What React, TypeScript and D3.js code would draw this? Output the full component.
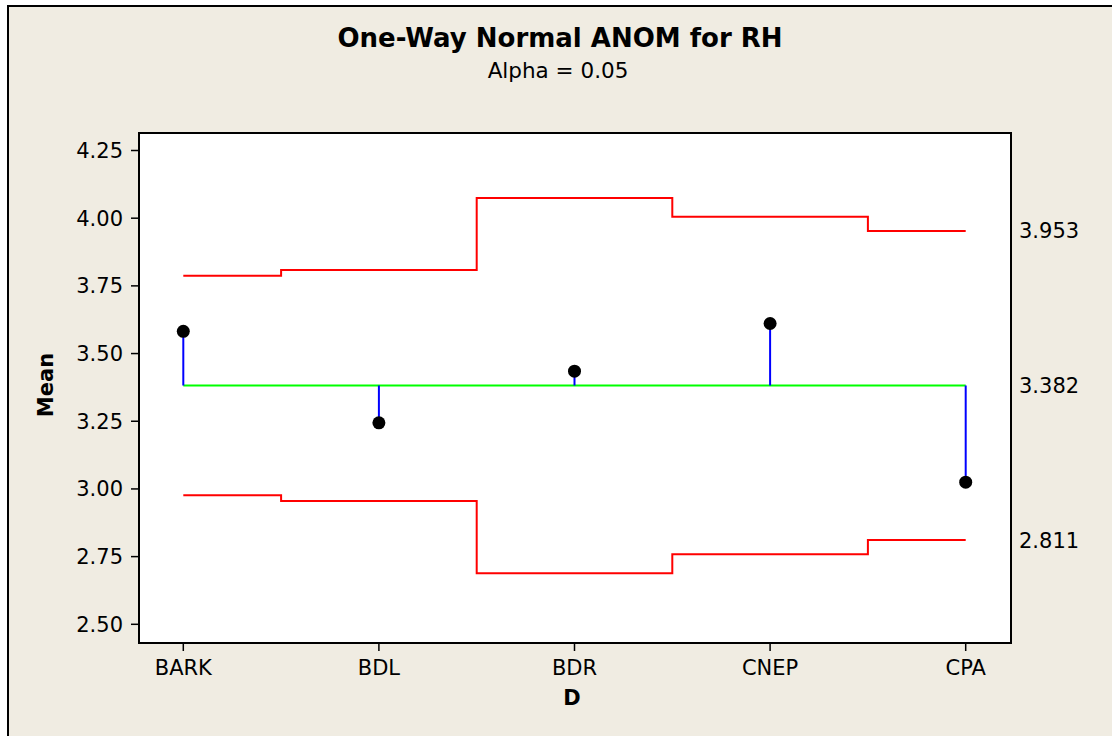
import React from "react";
import * as d3 from "d3";

const categories = ["BARK", "BDL", "BDR", "CNEP", "CPA"];
const means = [3.582, 3.244, 3.435, 3.611, 3.025];
const upperLimits = [3.787, 3.809, 4.075, 4.005, 3.953];
const lowerLimits = [2.977, 2.955, 2.689, 2.759, 2.811];
const centerLine = 3.382;
const yTicks = [2.5, 2.75, 3.0, 3.25, 3.5, 3.75, 4.0, 4.25];
const rightLabels = [
  { value: 3.953, text: "3.953" },
  { value: 3.382, text: "3.382" },
  { value: 2.811, text: "2.811" },
];

const W = 1112;
const H = 736;
const plot = { left: 139, right: 1011, top: 133, bottom: 643 };
const FONT = "'DejaVu Sans', Tahoma, sans-serif";

export default function App() {
  const x = d3.scalePoint<string>().domain(categories).range([183.3, 965.7]).padding(0);
  const y = d3.scaleLinear().domain([2.5, 4.25]).range([624.3, 150.5]);

  const stepLine = d3
    .line<number>()
    .x((_, i) => x(categories[i]) as number)
    .y((d) => y(d))
    .curve(d3.curveStep);

  return (
    <div style={{ position: "absolute", left: 0, top: 0, width: W, height: H, overflow: "hidden" }}>
      <svg width={W} height={H} style={{ display: "block" }} fontFamily={FONT}>
        <rect x={0} y={0} width={W} height={H} fill="#ffffff" />
        <rect x={8} y={6} width={W + 20} height={H + 20} fill="#F0ECE2" stroke="#000" strokeWidth={2} />
        <text x={560} y={47} textAnchor="middle" fontSize={26} fontWeight="bold" fill="#000">
          One-Way Normal ANOM for RH
        </text>
        <text x={558} y={78} textAnchor="middle" fontSize={21.5} fill="#000">
          Alpha = 0.05
        </text>

        <rect
          x={plot.left}
          y={plot.top}
          width={plot.right - plot.left}
          height={plot.bottom - plot.top}
          fill="#ffffff"
          stroke="#000"
          strokeWidth={2}
        />

        {yTicks.map((t) => (
          <g key={t}>
            <line x1={plot.left - 8} x2={plot.left} y1={y(t)} y2={y(t)} stroke="#000" strokeWidth={1.5} />
            <text x={plot.left - 16} y={y(t) + 7.5} textAnchor="end" fontSize={21} fill="#000">
              {t.toFixed(2)}
            </text>
          </g>
        ))}

        {categories.map((c) => (
          <g key={c}>
            <line x1={x(c)} x2={x(c)} y1={plot.bottom} y2={plot.bottom + 8} stroke="#000" strokeWidth={1.5} />
            <text x={x(c)} y={675} textAnchor="middle" fontSize={21} fill="#000">
              {c}
            </text>
          </g>
        ))}

        <text x={572} y={705} textAnchor="middle" fontSize={21} fontWeight="bold" fill="#000">
          D
        </text>
        <text
          transform={`translate(53, 385) rotate(-90)`}
          textAnchor="middle"
          fontSize={21}
          fontWeight="bold"
          fill="#000"
        >
          Mean
        </text>

        <path d={stepLine(upperLimits) || ""} fill="none" stroke="#FF0000" strokeWidth={2} />
        <path d={stepLine(lowerLimits) || ""} fill="none" stroke="#FF0000" strokeWidth={2} />
        <line
          x1={x(categories[0])}
          x2={x(categories[categories.length - 1])}
          y1={y(centerLine)}
          y2={y(centerLine)}
          stroke="#00FF00"
          strokeWidth={2}
        />

        {means.map((m, i) => (
          <line
            key={"s" + i}
            x1={x(categories[i])}
            x2={x(categories[i])}
            y1={y(centerLine)}
            y2={y(m)}
            stroke="#0000FF"
            strokeWidth={2}
          />
        ))}
        {means.map((m, i) => (
          <circle key={"p" + i} cx={x(categories[i])} cy={y(m)} r={6.5} fill="#000" />
        ))}

        {rightLabels.map((r) => (
          <text key={r.text} x={1019} y={y(r.value) + 7.5} textAnchor="start" fontSize={21} fill="#000">
            {r.text}
          </text>
        ))}
      </svg>
    </div>
  );
}
